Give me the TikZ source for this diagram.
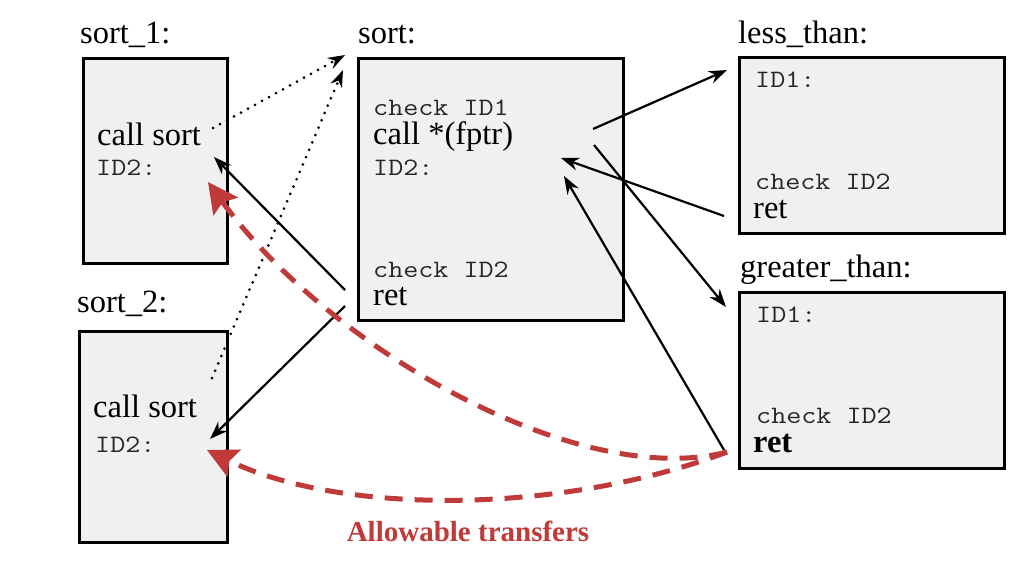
\documentclass[tikz,border=0pt]{standalone}
\usepackage{fontspec}
\setmainfont{Liberation Serif}
\setmonofont[FakeStretch=1.17]{Latin Modern Mono}
\usetikzlibrary{arrows.meta}
\definecolor{boxfill}{RGB}{240,240,240}
\definecolor{xred}{RGB}{192,58,58}
\begin{document}
\begin{tikzpicture}[x=1pt,y=-1pt,
  box/.style={draw=black, line width=2.8pt, fill=boxfill, anchor=north west, inner sep=0pt},
  lbl/.style={anchor=base west, inner sep=0pt, font=\fontsize{32.5}{32.5}\selectfont},
  code/.style={anchor=base west, inner sep=0pt, font=\fontsize{25}{25}\selectfont\ttfamily, text=black!85},
  flow/.style={line width=2.2pt, -{Stealth[length=18pt,width=13pt]}},
  callflow/.style={line width=3pt, dash pattern=on 0pt off 8pt, line cap=round, -{Stealth[length=17pt,width=12pt]}},
  xfer/.style={xred, line width=5pt, dash pattern=on 18pt off 12pt, -{Stealth[length=30pt,width=30pt,inset=5pt]}}
]
\useasboundingbox (0,0) rectangle (1024,570);

% boxes
\node[box, minimum width=144pt, minimum height=205pt] (s1) at (82,57) {};
\node[box, minimum width=148pt, minimum height=211pt] (s2) at (78,330) {};
\node[box, minimum width=265pt, minimum height=262pt] (srt) at (357,57) {};
\node[box, minimum width=265pt, minimum height=176pt] (lt) at (738,56) {};
\node[box, minimum width=265pt, minimum height=176pt] (gt) at (738,291) {};

% titles
\node[lbl] (t1) at (80,43) {sort\_1:};
\node[lbl] (t2) at (77,312) {sort\_2:};
\node[lbl] (t3) at (358,43) {sort:};
\node[lbl] (t4) at (738,43) {less\_than:};
\node[lbl] (t5) at (740,277) {greater\_than:};

% sort_1 contents
\node[lbl] (s1call) at (97,145) {call sort};
\node[code] (s1id) at (96,175) {ID2:};
% sort_2 contents
\node[lbl] (s2call) at (93,417) {call sort};
\node[code] (s2id) at (95,452) {ID2:};
% sort contents
\node[code] (sc1) at (373,115) {check ID1};
\node[lbl] (scall) at (373,144) {call *(fptr)};
\node[code] (sid) at (373,175) {ID2:};
\node[code] (sc2) at (373,277) {check ID2};
\node[lbl] (sret) at (373,305) {ret};
% less_than contents
\node[code] (lid) at (755,87) {ID1:};
\node[code] (lc2) at (755,189) {check ID2};
\node[lbl] (lret) at (753,218) {ret};
% greater_than contents
\node[code] (gid) at (756,322) {ID1:};
\node[code] (gc2) at (756,423) {check ID2};
\node[lbl, font=\fontsize{32.5}{32.5}\selectfont\bfseries] (gret) at (753,452) {ret};

% caption
\node[anchor=base, inner sep=0pt, text=xred, font=\fontsize{29}{29}\selectfont\bfseries] (cap) at (468,541) {Allowable transfers};

% connector end points
\coordinate (d1a) at (213,128);
\coordinate (d1b) at (345,55);
\coordinate (d2a) at (212,378);
\coordinate (d2b) at (343,70);
\coordinate (r1a) at (345,290);
\coordinate (r1b) at (214,157);
\coordinate (r2a) at (345,306);
\coordinate (r2b) at (210,439);
\coordinate (f1a) at (593,129);
\coordinate (f1b) at (727,70);
\coordinate (f2a) at (594,145);
\coordinate (f2b) at (726,307);
\coordinate (b1a) at (724,216);
\coordinate (b1b) at (561,158);
\coordinate (b2a) at (724,450);
\coordinate (b2b) at (564,176);
\coordinate (xa) at (727,452);
\coordinate (x1) at (208,182);
\coordinate (x2) at (207,450);

% calls (dotted)
\draw[callflow] (d1a) -- (d1b);
\draw[callflow] (d2a) -- (d2b);
% returns and indirect calls
\draw[flow] (r1a) -- (r1b);
\draw[flow] (r2a) -- (r2b);
\draw[flow] (f1a) -- (f1b);
\draw[flow] (f2a) -- (f2b);
\draw[flow] (b1a) -- (b1b);
\draw[flow] (b2a) -- (b2b);

% allowable transfers
\draw[xfer] (xa) .. controls (580,490) and (330,350) .. (x1);
\draw[xfer] (xa) .. controls (560,515) and (340,515) .. (x2);
\end{tikzpicture}
\end{document}
